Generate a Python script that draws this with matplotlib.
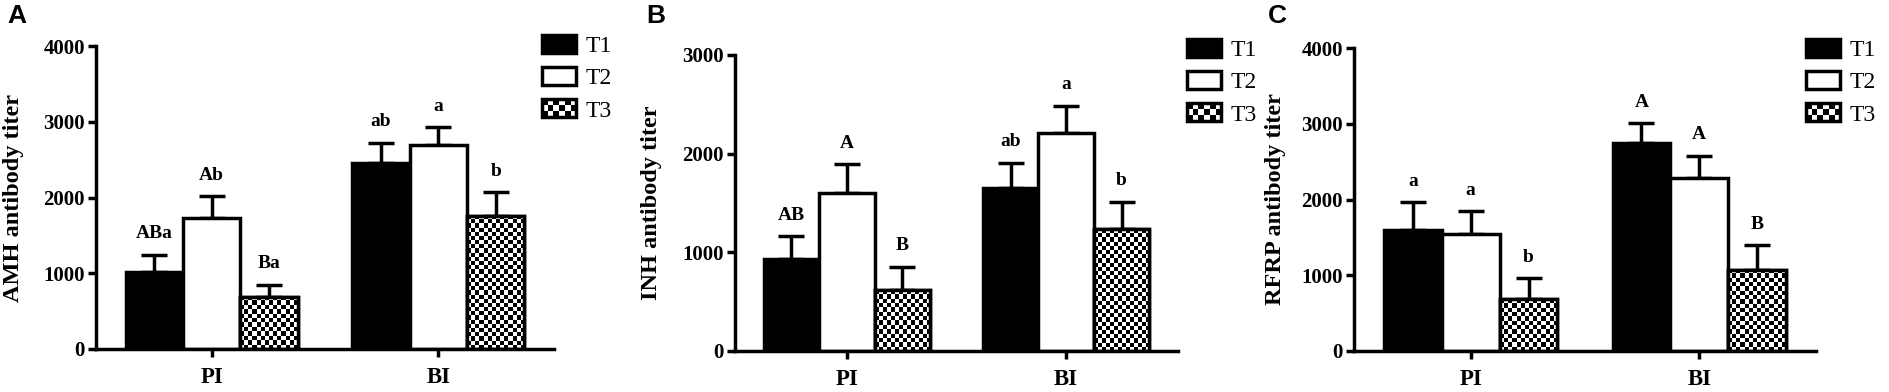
import numpy as np
import matplotlib
matplotlib.use('Agg')
import matplotlib.pyplot as plt
from matplotlib.patches import Rectangle
from matplotlib.legend_handler import HandlerBase

plt.rcParams['font.family'] = 'Liberation Serif'
plt.rcParams['font.weight'] = 'bold'

groups = ['PI', 'BI']
treatments = ['T1', 'T2', 'T3']

# rows = T1, T2, T3 ; columns = PI, BI
amh_means = [[1020, 2460], [1730, 2690], [690, 1760]]
amh_errs = [[225, 260], [285, 240], [155, 310]]
amh_letters = [['ABa', 'ab'], ['Ab', 'a'], ['Ba', 'b']]

inh_means = [[930, 1650], [1600, 2205], [615, 1235]]
inh_errs = [[233, 260], [294, 281], [237, 278]]
inh_letters = [['AB', 'ab'], ['A', 'a'], ['B', 'b']]

rfrp_means = [[1595, 2740], [1545, 2285], [680, 1075]]
rfrp_errs = [[370, 264], [300, 294], [281, 321]]
rfrp_letters = [['a', 'A'], ['a', 'A'], ['b', 'B']]

W, H = 1890, 392
fig = plt.figure(figsize=(W / 100, H / 100), dpi=100)
LW = 2.5


class CheckerHandler(HandlerBase):
    def create_artists(self, legend, orig_handle, xdescent, ydescent,
                       width, height, fontsize, trans):
        x0, y0 = -xdescent, -ydescent
        arts = [Rectangle((x0, y0), width, height, facecolor='white',
                          edgecolor='none', transform=trans)]
        nx, ny = 6, 3
        cw, ch = width / nx, height / ny
        for i in range(nx):
            for j in range(ny):
                if (i + j) % 2 == 0:
                    arts.append(Rectangle((x0 + i * cw, y0 + j * ch), cw, ch,
                                          facecolor='black', lw=0, transform=trans))
        arts.append(Rectangle((x0, y0), width, height, facecolor='none',
                              edgecolor='black', lw=LW, transform=trans))
        return arts


def checker(nr, nc):
    return (np.add.outer(np.arange(nr), np.arange(nc)) % 2).astype(float)


def panel(rect, ymax, means, errs, letters, ylabel, ylab_x, leg_xy, tag, tag_x):
    ax = fig.add_axes(rect)
    x = np.arange(len(groups))
    w = 0.253
    colors = ['black', 'white', 'white']
    bars = []
    ax_h_px = rect[3] * H
    for i, t in enumerate(treatments):
        xs = x + (i - 1) * w
        b = ax.bar(xs, means[i], w, color=colors[i], edgecolor='black',
                   linewidth=LW, label=t, zorder=2)
        bars.append(b)
        if i == 2:
            for xi, m in zip(xs, means[i]):
                nr = max(1, int(round(m / ymax * ax_h_px / 4.2)))
                ax.imshow(checker(nr, 14), cmap='gray', extent=(xi - w / 2, xi + w / 2, 0, m),
                          interpolation='nearest', aspect='auto', zorder=2.1)
            ax.bar(xs, means[i], w, color='none', edgecolor='black',
                   linewidth=LW, zorder=2.2)
        ax.errorbar(xs, means[i], yerr=[np.zeros(len(groups)), errs[i]], fmt='none',
                    ecolor='black', elinewidth=LW, capsize=9.5, capthick=LW, zorder=1.5)
        for xi, m, e, lab in zip(xs, means[i], errs[i], letters[i]):
            ax.annotate(lab, (xi, m + e), xytext=(0, 9), textcoords='offset points',
                        ha='center', va='bottom', fontsize=14, fontweight='bold')
    ax.set_xlim(-0.51, 1.51)
    ax.set_ylim(0, ymax)
    ax.set_yticks(np.arange(0, ymax + 1, 1000))
    ax.set_xticks(x)
    ax.set_xticklabels(groups)
    for s in ['top', 'right']:
        ax.spines[s].set_visible(False)
    for s in ['left', 'bottom']:
        ax.spines[s].set_linewidth(LW)
    ax.tick_params(width=LW, length=6, labelsize=15, pad=2)
    ax.tick_params(axis='x', pad=7, labelsize=16.5)
    ax.set_ylabel(ylabel, fontsize=17.5, fontweight='bold')
    ax.yaxis.set_label_coords(ylab_x, 0.5)
    ax.legend(handles=bars, labels=treatments, handler_map={bars[2]: CheckerHandler()},
              loc='upper left', bbox_to_anchor=leg_xy, bbox_transform=fig.transFigure,
              frameon=False, borderpad=0, borderaxespad=0, handlelength=1.45,
              handleheight=0.8, handletextpad=0.4, labelspacing=0.42,
              prop={'family': 'Liberation Serif', 'weight': 'normal', 'size': 17})
    fig.text(tag_x / W, 1 - 4 / H, tag, ha='left', va='top', fontsize=19,
             fontweight='bold', family='Liberation Sans')
    return ax


panel([96 / W, 1 - 349 / H, 458 / W, 303 / H], 4000, amh_means, amh_errs, amh_letters,
      'AMH antibody titer', -0.157, (542 / W, 1 - 35 / H), 'A', 7)
panel([735 / W, 1 - 351 / H, 443 / W, 296 / H], 3000, inh_means, inh_errs, inh_letters,
      'INH antibody titer', -0.165, (1187 / W, 1 - 39 / H), 'B', 646)
panel([1354 / W, 1 - 351 / H, 462 / W, 303 / H], 4000, rfrp_means, rfrp_errs, rfrp_letters,
      'RFRP antibody titer', -0.147, (1806 / W, 1 - 39 / H), 'C', 1268)

fig.savefig('out.png', dpi=100)
